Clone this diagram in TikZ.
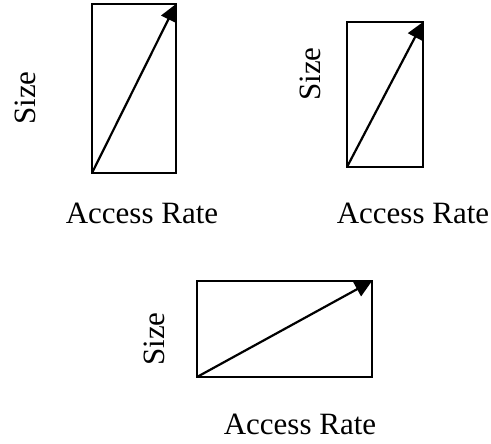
\documentclass[tikz,border=0pt]{standalone}
\usepackage{fontspec}
\setmainfont{Liberation Serif}
\usetikzlibrary{arrows.meta,positioning}
\tikzset{
  x=1pt, y=-1pt,
  box/.style   ={rectangle, draw=black, line width=2.2pt, outer sep=0pt, inner sep=0pt},
  axis/.style  ={font=\fontsize{31}{31}\selectfont, inner sep=0pt},
  sizelbl/.style={axis, rotate=90},
  diag/.style  ={-{Triangle[length=17pt,width=16pt]}, line width=2.2pt},
}
\begin{document}
\begin{tikzpicture}
  \useasboundingbox (0,0) rectangle (491,444);
  % top left
  \node[box, minimum width=84pt, minimum height=169pt] (boxA) at (134,88.5) {};
  \node[sizelbl] (sizeA) at (25,98) {Size};
  \node[axis] (rateA) at (142,213) {Access Rate};
  % top right
  \node[box, minimum width=76pt, minimum height=145pt] (boxB) at (385,94.5) {};
  \node[sizelbl] (sizeB) at (310,74) {Size};
  \node[axis] (rateB) at (413,213) {Access Rate};
  % bottom
  \node[box, minimum width=175pt, minimum height=96pt] (boxC) at (284.5,329) {};
  \node[sizelbl] (sizeC) at (154,339) {Size};
  \node[axis] (rateC) at (300,424) {Access Rate};

  \draw[diag] (boxA.south west) -- (boxA.north east);
  \draw[diag] (boxB.south west) -- (boxB.north east);
  \draw[diag] (boxC.south west) -- (boxC.north east);
\end{tikzpicture}
\end{document}
